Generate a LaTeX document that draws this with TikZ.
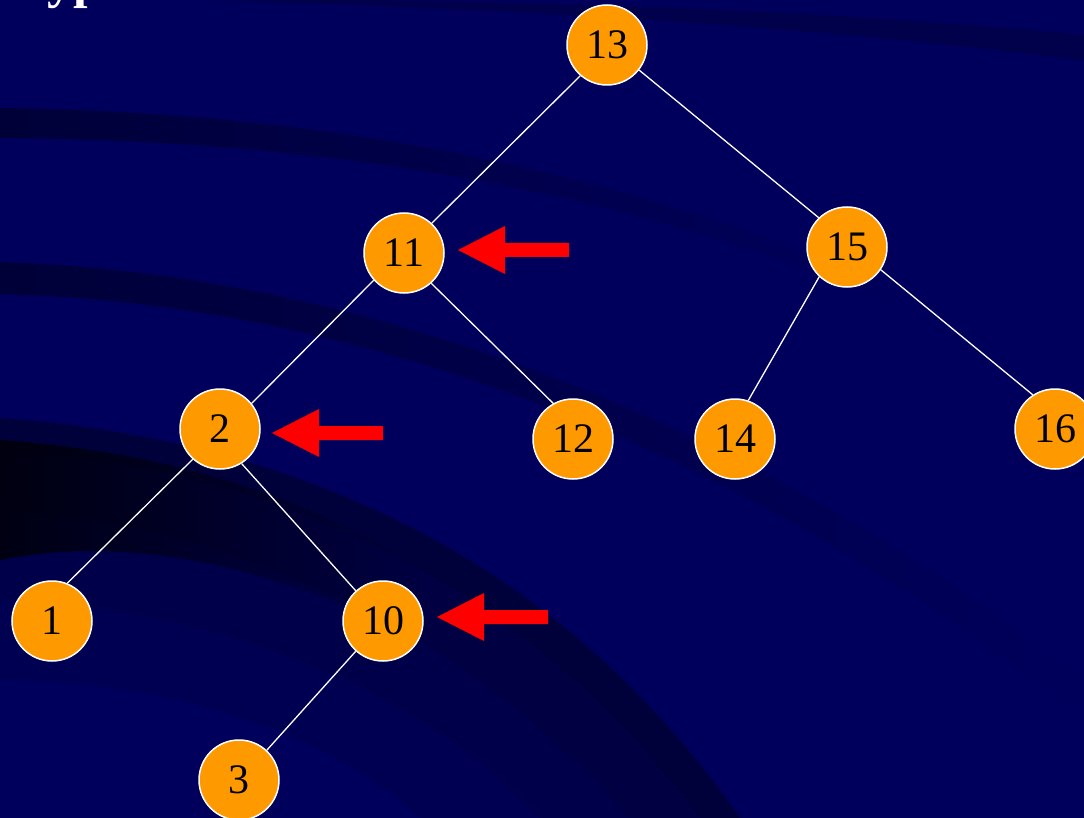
\documentclass[tikz,border=0pt]{standalone}
\usepackage{fontspec}
\setmainfont{Liberation Serif}
\usetikzlibrary{fadings}
\tikzfading[name=fadetoright, left color=transparent!0, right color=transparent!100]
\tikzfading[name=fadeend, left color=transparent!0, middle color=transparent!15, right color=transparent!100]
\begin{document}
\begin{tikzpicture}[x=1pt,y=-1pt,
  tnode/.style={circle,draw=white,line width=1.5pt,fill=nodeorange,minimum size=80pt,inner sep=0pt,font=\fontsize{42}{42}\selectfont},
  edge/.style={draw=white,line width=1.3pt},
  marker/.style={fill=red}]
\definecolor{bgnavy}{RGB}{0,0,92}
\definecolor{bgdark}{RGB}{0,0,45}
\definecolor{nodeorange}{RGB}{255,153,0}
\useasboundingbox (0,0) rectangle (1084,818);
\begin{scope}
\clip (0,0) rectangle (1084,818);
\fill[bgnavy] (0,0) rectangle (1084,818);
% background sweeps
\fill[bgdark,opacity=0.35] (200,0) .. controls (500,8) and (800,25) .. (1084,60) -- (1084,35) .. controls (800,8) and (500,0) .. (300,0) -- cycle;
\fill[bgdark,opacity=0.75,path fading=fadeend] (0,108) .. controls (300,112) and (600,160) .. (900,290) -- (900,305) .. controls (600,180) and (300,140) .. (0,138) -- cycle;
\fill[bgdark,opacity=0.75,path fading=fadeend] (0,262) .. controls (300,270) and (700,380) .. (1084,680) -- (1084,720) .. controls (700,410) and (300,300) .. (0,294) -- cycle;
% lower-left dark band
\fill[bgdark,opacity=0.2] (0,418) .. controls (300,440) and (560,560) .. (740,818) -- (420,818) .. controls (340,740) and (180,680) .. (0,680) -- cycle;
\fill[bgdark,opacity=0.2] (0,418) .. controls (300,440) and (560,560) .. (740,818) -- (540,818) .. controls (430,700) and (240,610) .. (0,600) -- cycle;
\fill[bgdark,opacity=0.25] (0,418) .. controls (300,440) and (560,560) .. (740,818) -- (630,818) .. controls (480,650) and (270,530) .. (0,510) -- cycle;
\fill[bgdark,opacity=0.35] (0,418) .. controls (300,440) and (560,560) .. (740,818) -- (700,818) .. controls (530,590) and (290,470) .. (0,450) -- cycle;
\fill[black,opacity=0.75,path fading=fadetoright] (0,440) .. controls (200,455) and (330,510) .. (420,570) -- (420,640) .. controls (300,580) and (150,530) .. (0,560) -- cycle;
\node[anchor=base west,text=white,font=\fontsize{52}{52}\selectfont\bfseries,inner sep=0pt] (title) at (16,-2) {Typ};
\end{scope}
% nodes
\node[tnode] (n13) at (607,45) {13};
\node[tnode] (n11) at (404,253) {11};
\node[tnode] (n15) at (847,247) {15};
\node[tnode] (n2) at (220,429) {2};
\node[tnode] (n12) at (573,439) {12};
\node[tnode] (n14) at (735,439) {14};
\node[tnode] (n16) at (1055,429) {16};
\node[tnode] (n1) at (52,621) {1};
\node[tnode] (n10) at (383,621) {10};
\node[tnode] (n3) at (239,780) {3};
% edges
\draw[edge] (n13.229) -- (n11.47);
\draw[edge] (n13.322) -- (n15.134);
\draw[edge] (n11.222) -- (n2.39);
\draw[edge] (n11.312) -- (n12.119);
\draw[edge] (n15.227) -- (n14.71);
\draw[edge] (n15.326) -- (n16.123);
\draw[edge] (n2.228) -- (n1.68);
\draw[edge] (n2.302) -- (n10.132);
\draw[edge] (n10.228) -- (n3.47);
% arrows
\coordinate (a1) at (458,250);
\coordinate (a2) at (272,433);
\coordinate (a3) at (437,617);
\fill[marker] (a1) -- ++(47,-24) -- ++(0,17) -- ++(64,0) -- ++(0,14) -- ++(-64,0) -- ++(0,17) -- cycle;
\fill[marker] (a2) -- ++(47,-24) -- ++(0,17) -- ++(64,0) -- ++(0,14) -- ++(-64,0) -- ++(0,17) -- cycle;
\fill[marker] (a3) -- ++(47,-24) -- ++(0,17) -- ++(64,0) -- ++(0,14) -- ++(-64,0) -- ++(0,17) -- cycle;
\end{tikzpicture}
\end{document}
